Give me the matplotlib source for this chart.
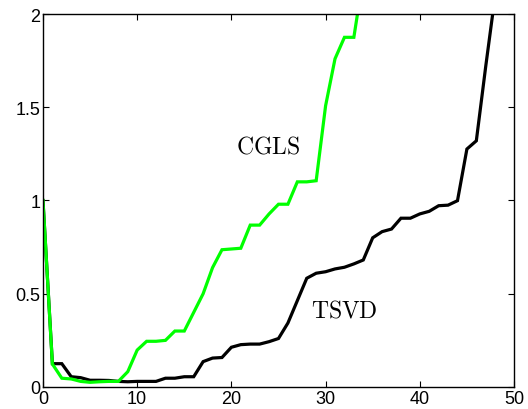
import numpy as np
import matplotlib
matplotlib.use("Agg")
import matplotlib.pyplot as plt

plt.rcParams['font.family'] = ['Liberation Sans', 'DejaVu Sans']
plt.rcParams['mathtext.fontset'] = 'cm'

# error curves vs. iteration / truncation index
cgls = [1.0, 0.123, 0.047, 0.043, 0.03, 0.025, 0.028, 0.03, 0.03, 0.082,
        0.198, 0.245, 0.245, 0.25, 0.30, 0.30, 0.40, 0.50, 0.64, 0.736,
        0.74, 0.744, 0.868, 0.868, 0.928, 0.98, 0.98, 1.10, 1.10, 1.106,
        1.508, 1.76, 1.875, 1.875, 2.2]
tsvd = [1.0, 0.125, 0.125, 0.055, 0.05, 0.036, 0.036, 0.035, 0.03, 0.028,
        0.03, 0.03, 0.03, 0.047, 0.047, 0.055, 0.055, 0.136, 0.155, 0.158,
        0.213, 0.227, 0.23, 0.23, 0.243, 0.26, 0.343, 0.463, 0.583, 0.61,
        0.618, 0.633, 0.642, 0.66, 0.681, 0.80, 0.833, 0.847, 0.905, 0.905,
        0.928, 0.942, 0.972, 0.975, 0.999, 1.276, 1.32, 1.72, 2.1]

xticks = [0, 10, 20, 30, 40, 50]
yticks = [0, 0.5, 1, 1.5, 2]
yticklabels = ['0', '0.5', '1', '1.5', '2']

fig = plt.figure(figsize=(5.28, 4.10), dpi=100)
ax = fig.add_axes([0.0814, 0.0537, 0.8921, 0.9097])

ax.plot(np.arange(len(tsvd)), tsvd, color='black', lw=2.3, solid_joinstyle='miter')
ax.plot(np.arange(len(cgls)), cgls, color='#00ff00', lw=2.3, solid_joinstyle='miter')

ax.set_xlim(0, 50)
ax.set_ylim(0, 2)
ax.set_xticks(xticks)
ax.set_yticks(yticks)
ax.set_yticklabels(yticklabels)
ax.tick_params(direction='in', length=4, width=0.8, top=True, right=True,
               labelsize=13, pad=2)
for s in ax.spines.values():
    s.set_linewidth(1.0)

ax.text(23.9, 1.29, r'$\mathrm{CGLS}$', fontsize=17, ha='center', va='center')
ax.text(31.95, 0.41, r'$\mathrm{TSVD}$', fontsize=17, ha='center', va='center')

fig.savefig('out.png', dpi=100)
